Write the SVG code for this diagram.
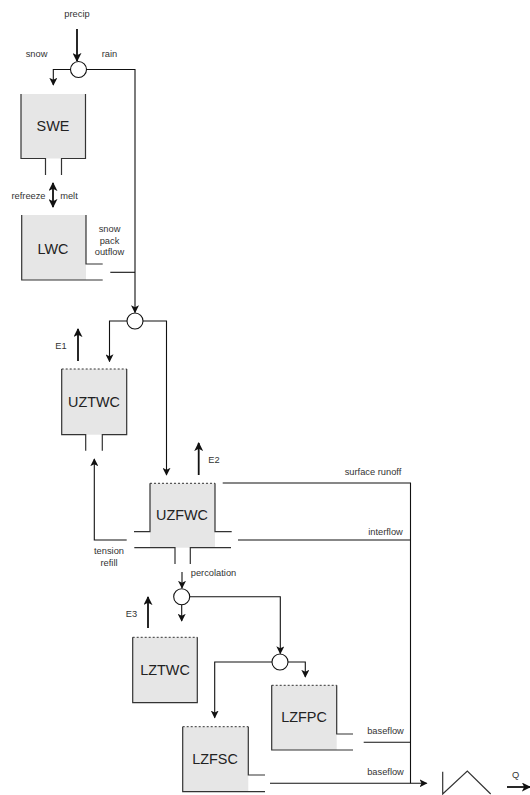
<svg xmlns="http://www.w3.org/2000/svg" width="530" height="795" viewBox="0 0 530 795">
<style>
text{font-family:"Liberation Sans",Arial,sans-serif;fill:#222}
.l{font-size:9.3px;text-anchor:middle;fill:#333}
.n{font-size:14.4px;text-anchor:middle}
.f{fill:#e6e6e6;stroke:none}
.w{fill:none;stroke:#333;stroke-width:1.2}
.d{fill:none;stroke:#333;stroke-width:1;stroke-dasharray:2 2}
.c{fill:none;stroke:#111;stroke-width:1.1}
.t{fill:none;stroke:#111;stroke-width:1.8}
.o{fill:#fff;stroke:#111;stroke-width:1.1}
</style>
<defs>
<marker id="a" viewBox="0 0 10 10" refX="9" refY="5" markerWidth="8" markerHeight="8" markerUnits="userSpaceOnUse" orient="auto-start-reverse"><path d="M0 0L10 5L0 10L2.5 5Z" fill="#111"/></marker>
<marker id="b" viewBox="0 0 10 10" refX="9" refY="5" markerWidth="9" markerHeight="9" markerUnits="userSpaceOnUse" orient="auto-start-reverse"><path d="M0 0L10 5L0 10L2.5 5Z" fill="#111"/></marker>
</defs>
<g id="connectors">
<path class="t" d="M77 29V61" marker-end="url(#b)"/>
<path class="c" d="M70.500 69.500H53.300V85" marker-end="url(#a)"/>
<path class="c" d="M86.500 69.500H135V312.500" marker-end="url(#a)"/>
<path class="c" d="M110.300 272.300H135"/>
<path class="t" d="M53 183V207" marker-start="url(#b)" marker-end="url(#b)"/>
<path class="c" d="M127 321H109.500V361.500" marker-end="url(#a)"/>
<path class="c" d="M143 321H166.500V475" marker-end="url(#a)"/>
<path class="t" d="M78 361V329" marker-end="url(#b)"/>
<path class="t" d="M198.700 475V443" marker-end="url(#b)"/>
<path class="c" d="M126.700 540H94.300V459" marker-end="url(#a)"/>
<path class="c" d="M222.700 483H410.500V783.300"/>
<path class="c" d="M238 540H410.500"/>
<path class="c" d="M182 572V588" marker-end="url(#a)"/>
<path class="c" d="M181.700 604.700V621" marker-end="url(#a)"/>
<path class="t" d="M148 628V597" marker-end="url(#b)"/>
<path class="c" d="M189.700 596.700H280.300V653.500" marker-end="url(#a)"/>
<path class="c" d="M272 662H214.700V717.700" marker-end="url(#a)"/>
<path class="c" d="M288 662H305.300V677" marker-end="url(#a)"/>
<path class="c" d="M363.700 742.300H410.500"/>
<path class="c" d="M270 783.300H426.700" marker-end="url(#a)"/>
<path class="t" d="M507 787H530" marker-end="url(#b)"/>
</g>
<g id="split1"><circle class="o" cx="78.500" cy="69.500" r="8"/></g>
<g id="split2"><circle class="o" cx="135" cy="321" r="8"/></g>
<g id="split3"><circle class="o" cx="181.700" cy="596.700" r="8"/></g>
<g id="split4"><circle class="o" cx="280" cy="662" r="8"/></g>
<g id="SWE">
<rect class="f" x="21" y="94" width="64.500" height="64.500"/>
<path class="w" d="M21 94V158.500H45.500V175M61.500 175V158.500H85.500V94"/>
<text class="n" x="53" y="131">SWE</text>
</g>
<g id="LWC">
<rect class="f" x="21.700" y="215" width="64.300" height="65"/>
<path class="w" d="M21.700 215V280H102.700M86 215V264H102.700"/>
<text class="n" x="53" y="253.500">LWC</text>
</g>
<g id="UZTWC">
<rect class="f" x="61.700" y="369" width="65" height="65.700"/>
<path class="d" d="M61.700 369H126.700"/>
<path class="w" d="M61.700 369V434.700H85.700V450.700M102.300 450.700V434.700H126.700V369"/>
<text class="n" x="94" y="407">UZTWC</text>
</g>
<g id="UZFWC">
<rect class="f" x="150" y="483.300" width="65" height="64.400"/>
<path class="d" d="M150 483.300H215"/>
<path class="w" d="M134 531.700H150V483.300M215 483.300V531.700H231.700M134.300 547.700H175V564M190.300 564V547.700H231"/>
<text class="n" x="182" y="520">UZFWC</text>
</g>
<g id="LZTWC">
<rect class="f" x="132.700" y="637.300" width="64.600" height="65.400"/>
<path class="d" d="M132.700 637.300H197.300"/>
<path class="w" d="M132.700 637.300V702.700H197.300V637.300"/>
<text class="n" x="165" y="675">LZTWC</text>
</g>
<g id="LZFPC">
<rect class="f" x="271.700" y="685.300" width="65" height="64.700"/>
<path class="d" d="M271.700 685.300H336.700"/>
<path class="w" d="M271.700 685.300V750H353M336.700 685.300V734H353"/>
<text class="n" x="304" y="722">LZFPC</text>
</g>
<g id="LZFSC">
<rect class="f" x="182.700" y="726.700" width="65.600" height="65"/>
<path class="d" d="M182.700 726.700H248.300"/>
<path class="w" d="M182.700 726.700V791.700H265M248.300 726.700V775H265"/>
<text class="n" x="215" y="764">LZFSC</text>
</g>
<g id="hydrograph"><path class="w" d="M442.700 771.700V794L467.300 771L490.700 794"/></g>
<g id="labels">
<text class="l" x="77" y="17">precip</text>
<text class="l" x="36.500" y="57">snow</text>
<text class="l" x="109.500" y="57">rain</text>
<text class="l" x="28.500" y="199">refreeze</text>
<text class="l" x="69" y="199">melt</text>
<text class="l" x="109.500" y="232">snow</text>
<text class="l" x="109.500" y="244">pack</text>
<text class="l" x="109.500" y="255">outflow</text>
<text class="l" x="61" y="349">E1</text>
<text class="l" x="214" y="463">E2</text>
<text class="l" x="131.500" y="617">E3</text>
<text class="l" x="109" y="553.500">tension</text>
<text class="l" x="109" y="566">refill</text>
<text class="l" x="213.500" y="576">percolation</text>
<text class="l" x="373" y="475">surface runoff</text>
<text class="l" x="385.500" y="535">interflow</text>
<text class="l" x="385.500" y="734">baseflow</text>
<text class="l" x="385.500" y="775">baseflow</text>
<text class="l" x="515.500" y="778">Q</text>
</g>
</svg>
